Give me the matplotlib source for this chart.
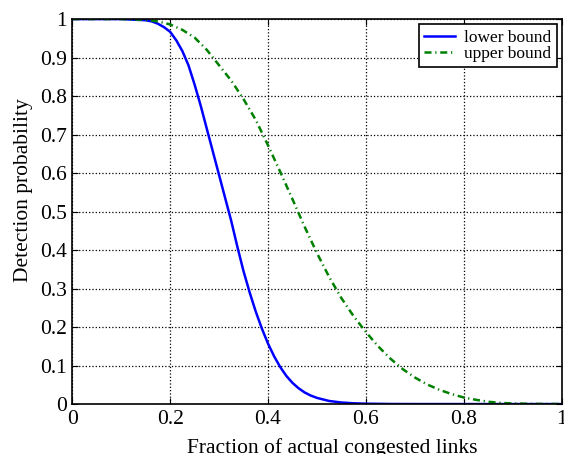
import matplotlib
matplotlib.use('Agg')
import matplotlib.pyplot as plt

# values
x_lower = [0, 0.1, 0.15, 0.1625, 0.175, 0.1875, 0.2, 0.2125, 0.225, 0.2375,
           0.25, 0.2625, 0.275, 0.2875, 0.3, 0.3125, 0.325, 0.3375, 0.35,
           0.3625, 0.375, 0.3875, 0.4, 0.4125, 0.425, 0.4375, 0.45, 0.4625,
           0.475, 0.4875, 0.5, 0.525, 0.55, 0.575, 0.6, 0.65, 0.7, 1.0]
lower = [1, 1.0, 0.997, 0.994, 0.988, 0.979, 0.967, 0.945, 0.917, 0.88,
         0.83, 0.775, 0.715, 0.655, 0.595, 0.535, 0.475, 0.408, 0.345,
         0.29, 0.24, 0.196, 0.157, 0.124, 0.096, 0.073, 0.055, 0.041,
         0.030, 0.022, 0.016, 0.008, 0.004, 0.002, 0.001, 0.0002, 0, 0]

x_upper = [0, 0.1, 0.15, 0.175, 0.2, 0.225, 0.25, 0.275, 0.3, 0.325, 0.35,
           0.375, 0.4, 0.425, 0.45, 0.475, 0.5, 0.525, 0.55, 0.575, 0.6,
           0.625, 0.65, 0.675, 0.7, 0.725, 0.75, 0.775, 0.8, 0.825, 0.85,
           0.875, 0.9, 0.95, 1.0]
upper = [1, 1.0, 0.998, 0.994, 0.986, 0.972, 0.952, 0.92, 0.88, 0.84, 0.792,
         0.738, 0.672, 0.603, 0.532, 0.46, 0.392, 0.33, 0.275, 0.228, 0.187,
         0.15, 0.118, 0.091, 0.069, 0.051, 0.037, 0.026, 0.017, 0.011, 0.006,
         0.003, 0.0015, 0.0003, 0]

xticks = [0, 0.2, 0.4, 0.6, 0.8, 1]
xticklabels = ['0', '0.2', '0.4', '0.6', '0.8', '1']
yticks = [0, 0.1, 0.2, 0.3, 0.4, 0.5, 0.6, 0.7, 0.8, 0.9, 1]
yticklabels = ['0', '0.1', '0.2', '0.3', '0.4', '0.5', '0.6', '0.7', '0.8', '0.9', '1']

plt.rcParams['font.family'] = ['Liberation Serif', 'DejaVu Serif']

fig = plt.figure(figsize=(5.64, 4.54), dpi=100)
ax = fig.add_axes([0.128, 0.110, 0.868, 0.848])

ax.plot(x_lower, lower, '-', color=(0, 0, 1), lw=1.8, label='lower bound')
ax.plot(x_upper, upper, color=(0, 0.5, 0), lw=1.8, label='upper bound',
        linestyle=(0, (2.8, 1.5, 0.5, 1.5)))

ax.set_xlim(0, 1)
ax.set_ylim(0, 1)
ax.set_xticks(xticks)
ax.set_xticklabels(xticklabels)
ax.set_yticks(yticks)
ax.set_yticklabels(yticklabels)
ax.tick_params(direction='in', top=True, right=True, labelsize=15.5, length=4, pad=4)
ax.grid(True, linestyle=':', color='k', lw=0.9)
for s in ax.spines.values():
    s.set_linewidth(1.2)

ax.set_xlabel('Fraction of actual congested links', fontsize=15.5)
ax.set_ylabel('Detection probability', fontsize=15.5)
ax.xaxis.set_label_coords(0.531, -0.088)
ax.yaxis.set_label_coords(-0.08, 0.556)

leg = ax.legend(loc='upper right', fontsize=12.5, fancybox=False, framealpha=1,
                edgecolor='k', borderaxespad=0.3, handlelength=1.8,
                borderpad=0.3, labelspacing=0.0, handletextpad=0.5)
leg.get_frame().set_linewidth(1.2)

fig.savefig('out.png', dpi=100)
